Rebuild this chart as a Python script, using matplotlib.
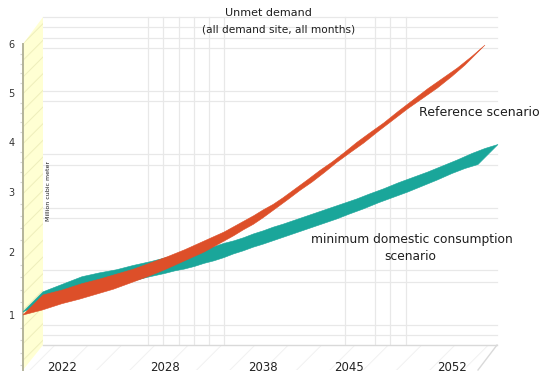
import numpy as np
import matplotlib
matplotlib.use("Agg")
import matplotlib.pyplot as plt
from matplotlib.patches import Polygon

# ---------------- data ----------------
ref_years = list(range(2020, 2054))
reference = [1.00, 1.08, 1.18, 1.25, 1.33, 1.41, 1.51, 1.61, 1.72, 1.79,
             1.86, 1.93, 2.00, 2.09, 2.18, 2.27, 2.37, 2.46, 2.57, 2.72,
             2.87, 3.03, 3.20, 3.39, 3.59, 3.77, 3.98, 4.22, 4.45, 4.68,
             4.89, 5.10, 5.34, 5.57]
min_years = list(range(2020, 2055))
minimum = [1.05, 1.17, 1.29, 1.35, 1.40, 1.47, 1.53, 1.60, 1.66, 1.70,
           1.73, 1.77, 1.82, 1.86, 1.91, 1.97, 2.02, 2.08, 2.13, 2.20,
           2.27, 2.34, 2.41, 2.48, 2.55, 2.63, 2.72, 2.82, 2.91, 3.00,
           3.12, 3.24, 3.37, 3.47, 3.55]
x_tick_years = [2022, 2028, 2038, 2045, 2052]
x_tick_labels = ["2022", "2028", "2038", "2045", "2052"]
y_tick_values = [1, 2, 3, 4, 5, 6]
y_tick_labels = ["1", "2", "3", "4", "5", "6"]

# ---------------- layout (pixel geometry of the pseudo-3D frame) ----------------
W, H = 550, 381
X_ANCHOR_YEARS = [2020, 2022, 2028, 2038, 2045, 2052, 2054]
X_ANCHOR_PX = [23, 62, 165, 263, 349, 452, 478]
Y_ANCHOR_VALUES = [1, 2, 3, 4, 5, 6]
Y_ANCHOR_PX = [315, 252, 192, 142, 93, 44]
DEPTH = (20, 20)  # ribbon depth offset in pixels (right, up)

ORANGE = "#DD4F29"
TEAL = "#1AA69A"
FONT = "DejaVu Sans"


def piecewise(xp, fp):
    xp = np.asarray(xp, float)
    fp = np.asarray(fp, float)
    s0 = (fp[1] - fp[0]) / (xp[1] - xp[0])
    s1 = (fp[-1] - fp[-2]) / (xp[-1] - xp[-2])

    def f(v):
        v = np.asarray(v, float)
        out = np.interp(v, xp, fp)
        out = np.where(v < xp[0], fp[0] + (v - xp[0]) * s0, out)
        out = np.where(v > xp[-1], fp[-1] + (v - xp[-1]) * s1, out)
        return out
    return f


x_fwd = piecewise(X_ANCHOR_YEARS, X_ANCHOR_PX)
x_inv = piecewise(X_ANCHOR_PX, X_ANCHOR_YEARS)
ypx_neg = [-p for p in Y_ANCHOR_PX]
y_fwd = piecewise(Y_ANCHOR_VALUES, ypx_neg)
y_inv = piecewise(ypx_neg, Y_ANCHOR_VALUES)

plt.rcParams["font.family"] = [FONT]
plt.rcParams["hatch.linewidth"] = 0.7

fig = plt.figure(figsize=(W / 100, H / 100), dpi=100)
fig.patch.set_facecolor("white")

# ---------- background frame (pixel coordinates) ----------
bg = fig.add_axes([0, 0, 1, 1])
bg.set_xlim(0, W)
bg.set_ylim(H, 0)
bg.axis("off")

wall_top_back, wall_bot_back = 17, 345
floor_front = 370
back_left, back_right = 43, 497
front_left, front_right = 23, 478

grid_y = [17, 27, 38, 48, 91, 101, 154, 165, 208, 218, 270, 282, 325, 335]
grid_x = [148, 163, 179, 194, 209, 224, 345, 375, 390, 406]
for gy in grid_y:
    bg.plot([back_left, back_right], [gy, gy], color="#E8E8E8", lw=0.9, zorder=1)
for gx in grid_x:
    bg.plot([gx, gx], [wall_top_back, wall_bot_back], color="#E8E8E8", lw=0.9, zorder=1)

floor = Polygon([(back_left, wall_bot_back), (back_right, wall_bot_back),
                 (front_right, floor_front), (front_left, floor_front)],
                closed=True, facecolor="white", edgecolor="#F1F1F1",
                hatch="/", lw=0, zorder=2)
bg.add_patch(floor)
bg.plot([back_left, back_right], [wall_bot_back, wall_bot_back], color="#D9D9D9", lw=1, zorder=3)
bg.plot([back_right, front_right], [wall_bot_back, floor_front], color="#D9D9D9", lw=1, zorder=3)

wall = Polygon([(front_left, 44), (back_left, wall_top_back), (back_left, wall_bot_back),
                (front_left, floor_front)], closed=True, facecolor="#FFFFD3",
               edgecolor="#EEEEBB", hatch="//", lw=0, zorder=2)
bg.add_patch(wall)

# ---------- data axes (scales map values to the front plane) ----------
ax = fig.add_axes([0, 0, 1, 1], facecolor="none")
ax.set_xscale("function", functions=(x_fwd, x_inv))
ax.set_yscale("function", functions=(y_fwd, y_inv))
ax.set_xlim(float(x_inv(0)), float(x_inv(W)))
ax.set_ylim(float(y_inv(-H)), float(y_inv(0)))


def ribbon(xv, yv, color, z):
    xv = np.asarray(xv, float)
    yv = np.asarray(yv, float)
    front = ax.transData.transform(np.column_stack([xv, yv]))
    back = ax.transData.inverted().transform(front + np.array(DEPTH))
    px = np.concatenate([xv, back[::-1, 0]])
    py = np.concatenate([yv, back[::-1, 1]])
    ax.fill(px, py, facecolor=color, edgecolor=color, lw=0.4, zorder=z)


ribbon(min_years, minimum, TEAL, 5)
ribbon(ref_years, reference, ORANGE, 6)

for s in ["top", "right", "bottom"]:
    ax.spines[s].set_visible(False)
ax.spines["left"].set_position(("data", X_ANCHOR_YEARS[0]))
ax.spines["left"].set_color("#B4B49A")
ax.spines["left"].set_linewidth(1.4)
ax.spines["left"].set_bounds(float(y_inv(-floor_front)), 6)
ax.spines["left"].set_zorder(4)

ax.set_yticks(y_tick_values)
ax.set_yticklabels(y_tick_labels)
ax.set_yticks(np.arange(0.2, 6.0, 0.2), minor=True)
ax.tick_params(axis="y", which="major", length=0, pad=6, labelsize=7, labelcolor="#333333")
ax.tick_params(axis="y", which="minor", length=2.5, color="#D2D2D2", width=0.8)

ax.set_xticks(x_tick_years)
ax.set_xticklabels(x_tick_labels)
ax.xaxis.set_minor_locator(matplotlib.ticker.NullLocator())
ax.spines["bottom"].set_position(("data", float(y_inv(-358))))
ax.tick_params(axis="x", which="major", length=0, pad=2, labelsize=8.5, labelcolor="#222222")

# ---------- texts ----------
def ftext(px, py, s, **kw):
    fig.text(px / W, 1 - py / H, s, ha="center", va="center", color="#1E1E1E", **kw)

ftext(268, 13, "Unmet demand", fontsize=8)
ftext(279, 30, "(all demand site, all months)", fontsize=7.6)
ftext(479, 113, "Reference scenario", fontsize=9)
ftext(412, 239, "minimum domestic consumption", fontsize=8.8)
ftext(410, 256, "scenario", fontsize=8.8)
ftext(48, 191, "Million cubic meter", fontsize=4.5, rotation=90)

fig.savefig("out.png", dpi=100)
